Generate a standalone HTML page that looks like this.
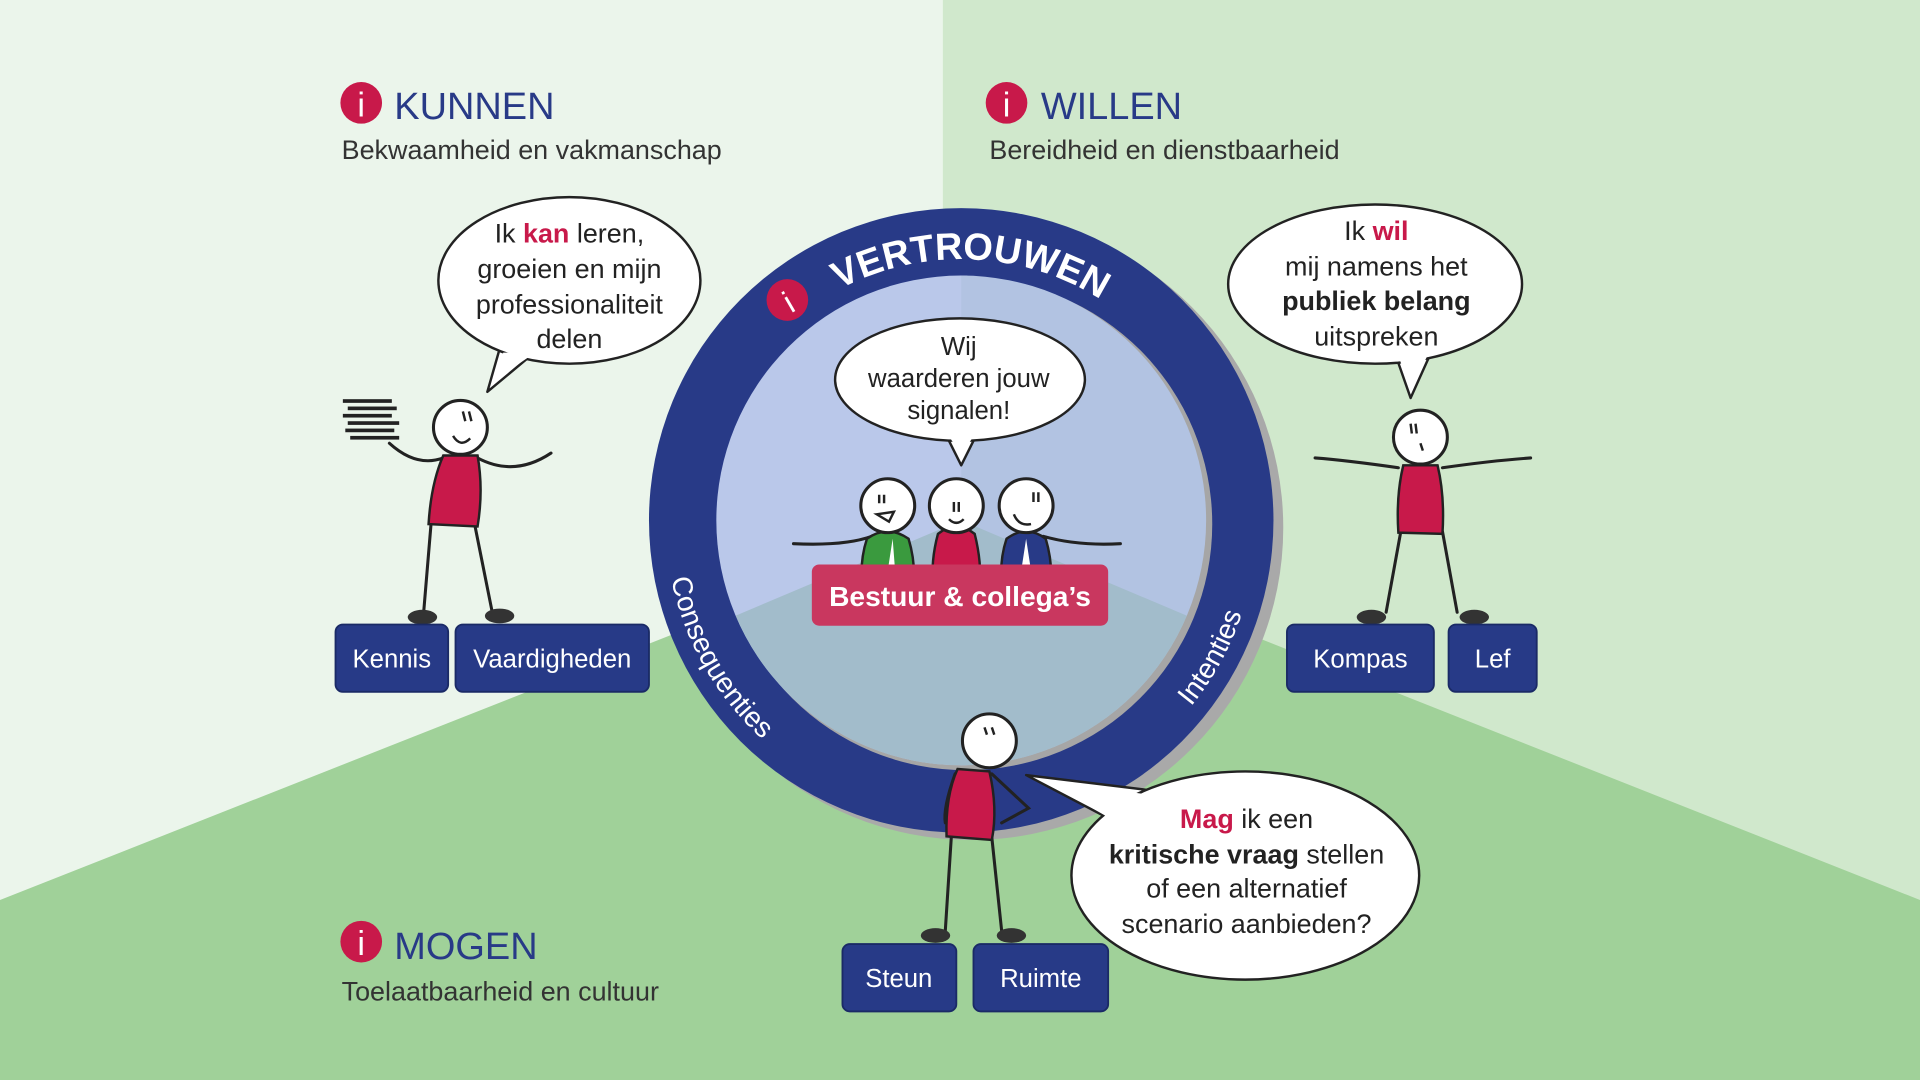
<!DOCTYPE html>
<html><head><meta charset="utf-8"><style>
html,body{margin:0;padding:0;width:1920px;height:1080px;overflow:hidden;background:#eaf5ea}
svg{display:block}
text{font-family:"Liberation Sans",sans-serif}
</style></head><body>
<svg width="1920" height="1080" viewBox="0 0 1568 882" xmlns="http://www.w3.org/2000/svg">
<defs>
<clipPath id="inner"><circle cx="785" cy="425" r="200"/></clipPath>
<path id="arcTop" d="M 585 498 A 213 213 0 1 1 985 498" fill="none"/>
<path id="arcLeft" d="M 547 383 A 242 242 0 0 0 743 663" fill="none"/>
<path id="arcRight" d="M 827 663 A 242 242 0 0 0 1023 383" fill="none"/>
</defs>
<rect width="1568" height="882" fill="#ebf5eb"/>
<rect x="770" width="798" height="882" fill="#d0e8cc"/>
<polygon points="0,735 785,425 1568,735 1568,882 0,882" fill="#a0d199"/>

<!-- ring -->
<circle cx="793" cy="431" r="255" fill="#a9a9a9"/>
<circle cx="785" cy="425" r="255" fill="#283a87"/>
<circle cx="789" cy="428" r="201" fill="#a6a6a6"/>
<g clip-path="url(#inner)">
<rect x="580" y="220" width="210" height="420" fill="#bac8ea"/>
<rect x="785" y="220" width="210" height="420" fill="#b2c3e2"/>
<polygon points="560,520 785,425 1010,520 1010,640 560,640" fill="#a2bccb"/>
</g>
<text font-size="31" fill="#fff" font-weight="bold"><textPath href="#arcTop" startOffset="51%" text-anchor="middle">VERTROUWEN</textPath></text>
<text font-size="23" fill="#fff"><textPath href="#arcLeft" startOffset="44%" text-anchor="middle">Consequenties</textPath></text>
<text font-size="23" fill="#fff"><textPath href="#arcRight" startOffset="57%" text-anchor="middle">Intenties</textPath></text>
<circle cx="643" cy="245" r="17" fill="#c8194a"/>
<text x="643" y="256" font-size="26" fill="#fff" text-anchor="middle" font-family="Liberation Serif" transform="rotate(-30 643 245)">i</text>

<!-- headings -->
<g fill="#c8194a"><circle cx="295" cy="84" r="17"/><circle cx="822" cy="84" r="17"/><circle cx="295" cy="769" r="17"/></g>
<g fill="#fff" font-size="28" text-anchor="middle" font-family="Liberation Serif"><text x="295" y="95">i</text><text x="822" y="95">i</text><text x="295" y="780">i</text></g>
<g fill="#283a87" font-size="31"><text x="322" y="97">KUNNEN</text><text x="850" y="97">WILLEN</text><text x="322" y="783">MOGEN</text></g>
<g fill="#333" font-size="22"><text x="279" y="130">Bekwaamheid en vakmanschap</text><text x="808" y="130">Bereidheid en dienstbaarheid</text><text x="279" y="817">Toelaatbaarheid en cultuur</text></g>

<!-- bubbles -->
<g fill="#fff" stroke="#222" stroke-width="2" stroke-linejoin="round">
<polygon points="408,285 440,285 398,320"/>
<polygon points="1138,285 1170,285 1152,325"/>
<polygon points="770,350 800,350 785,380"/>
<polygon points="901,666 936,645 838,633"/>
<ellipse cx="465" cy="229" rx="107" ry="68"/>
<ellipse cx="1123" cy="232" rx="120" ry="65"/>
<ellipse cx="784" cy="310" rx="102" ry="50"/>
<ellipse cx="1017" cy="715" rx="142" ry="85"/>
</g>
<g fill="#fff">
<polygon points="411,288 437,288 405,310"/>
<polygon points="1141,288 1167,288 1152,318"/>
<polygon points="773,353 797,353 785,372"/>
<polygon points="906,668 938,649 852,637"/>
</g>
<g font-size="22" fill="#222" text-anchor="middle">
<text x="465" y="198">Ik <tspan fill="#c8194a" font-weight="bold">kan</tspan> leren,</text>
<text x="465" y="227">groeien en mijn</text>
<text x="465" y="256">professionaliteit</text>
<text x="465" y="284">delen</text>
<text x="1124" y="196">Ik <tspan fill="#c8194a" font-weight="bold">wil</tspan></text>
<text x="1124" y="225">mij namens het</text>
<text x="1124" y="253" font-weight="bold">publiek belang</text>
<text x="1124" y="282">uitspreken</text>
<text x="783" y="290" font-size="21">Wij</text>
<text x="783" y="316" font-size="21">waarderen jouw</text>
<text x="783" y="342" font-size="21">signalen!</text>
<text x="1018" y="676"><tspan fill="#c8194a" font-weight="bold">Mag</tspan> ik een</text>
<text x="1018" y="705"><tspan font-weight="bold">kritische vraag</tspan> stellen</text>
<text x="1018" y="733">of een alternatief</text>
<text x="1018" y="762">scenario aanbieden?</text>
</g>

<!-- figures -->
<g stroke="#222" stroke-width="2.5" fill="none" stroke-linecap="round">
<path d="M362 374 Q340 382 318 362"/><path d="M390 374 Q420 390 450 370"/>
<path d="M352 428 L346 500"/><path d="M388 430 L402 500"/>
<path d="M1142 382 Q1100 376 1074 374"/><path d="M1178 382 Q1220 376 1250 374"/>
<path d="M1144 434 L1132 500"/><path d="M1178 434 L1190 500"/>
<path d="M777 682 L772 760"/><path d="M810 684 L818 760"/>
<path d="M780 632 Q770 660 772 672"/><path d="M810 632 L840 660 L818 672"/>
<path d="M712 438 Q690 446 648 444"/><path d="M852 438 Q880 446 915 444"/>
</g>
<g fill="#c8194a" stroke="#222" stroke-width="2">
<path d="M362 372 L390 372 Q395 400 390 430 L350 428 Q352 395 362 372 Z"/>
<path d="M1146 380 L1174 380 Q1180 405 1178 436 L1142 435 Q1140 405 1146 380 Z"/>
<path d="M782 628 L808 630 Q815 660 810 686 L773 683 Q772 650 782 628 Z"/>
<path d="M766 436 Q781 424 796 436 Q802 460 800 480 L762 480 Q760 458 766 436 Z"/>
</g>
<path d="M708 440 Q725 428 742 440 Q748 460 746 480 L704 480 Q702 458 708 440 Z" fill="#3a9a3e" stroke="#222" stroke-width="2"/>
<path d="M822 440 Q838 428 854 440 Q860 460 858 480 L818 480 Q816 458 822 440 Z" fill="#283a87" stroke="#222" stroke-width="2"/>
<g fill="#fff" stroke="#222" stroke-width="2.5">
<circle cx="376" cy="349" r="22"/><circle cx="1160" cy="357" r="22"/><circle cx="808" cy="605" r="22"/>
<circle cx="725" cy="413" r="22"/><circle cx="781" cy="413" r="22"/><circle cx="838" cy="413" r="22"/>
</g>
<g stroke="#222" stroke-width="2" fill="none">
<path d="M370 356 Q376 366 384 358"/><path d="M378 336 L380 344 M383 336 L385 344"/>
<path d="M1152 346 L1153 354 M1156 346 L1157 354"/><path d="M1160 362 L1162 368"/>
<path d="M804 594 L806 600 M810 594 L812 600"/>
<path d="M718 404 L718 411 M722 404 L722 411"/><path d="M716 420 L730 418 L726 426 Z"/>
<path d="M779 410 L779 418 M783 410 L783 418"/><path d="M775 424 Q781 430 787 424"/>
<path d="M844 402 L844 410 M848 402 L848 410"/><path d="M828 420 Q832 430 842 428"/>
</g>
<g fill="#333"><ellipse cx="345" cy="504" rx="12" ry="6"/><ellipse cx="408" cy="503" rx="12" ry="6"/>
<ellipse cx="1120" cy="504" rx="12" ry="6"/><ellipse cx="1204" cy="504" rx="12" ry="6"/>
<ellipse cx="764" cy="764" rx="12" ry="6"/><ellipse cx="826" cy="764" rx="12" ry="6"/></g>
<g fill="#222"><rect x="280" y="326" width="40" height="3"/><rect x="284" y="332" width="40" height="3"/><rect x="280" y="338" width="40" height="3"/><rect x="284" y="344" width="42" height="3"/><rect x="282" y="350" width="40" height="3"/><rect x="286" y="356" width="40" height="3"/></g>
<path d="M729 440 L725 466 L731 466 Z M838 440 L834 466 L842 466 Z" fill="#fff"/>

<!-- label -->
<rect x="663" y="461" width="242" height="50" rx="6" fill="#c9375f"/>
<text x="784" y="495" font-size="23" font-weight="bold" fill="#fff" text-anchor="middle">Bestuur &amp; collega’s</text>

<!-- boxes -->
<g fill="#273a87" stroke="#1a2a66" stroke-width="1.5">
<rect x="274" y="510" width="92" height="55" rx="6"/><rect x="372" y="510" width="158" height="55" rx="6"/>
<rect x="1051" y="510" width="120" height="55" rx="6"/><rect x="1183" y="510" width="72" height="55" rx="6"/>
<rect x="688" y="771" width="93" height="55" rx="6"/><rect x="795" y="771" width="110" height="55" rx="6"/>
</g>
<g fill="#fff" font-size="21" text-anchor="middle">
<text x="320" y="545">Kennis</text><text x="451" y="545">Vaardigheden</text>
<text x="1111" y="545">Kompas</text><text x="1219" y="545">Lef</text>
<text x="734" y="806">Steun</text><text x="850" y="806">Ruimte</text>
</g>
</svg>
</body></html>
